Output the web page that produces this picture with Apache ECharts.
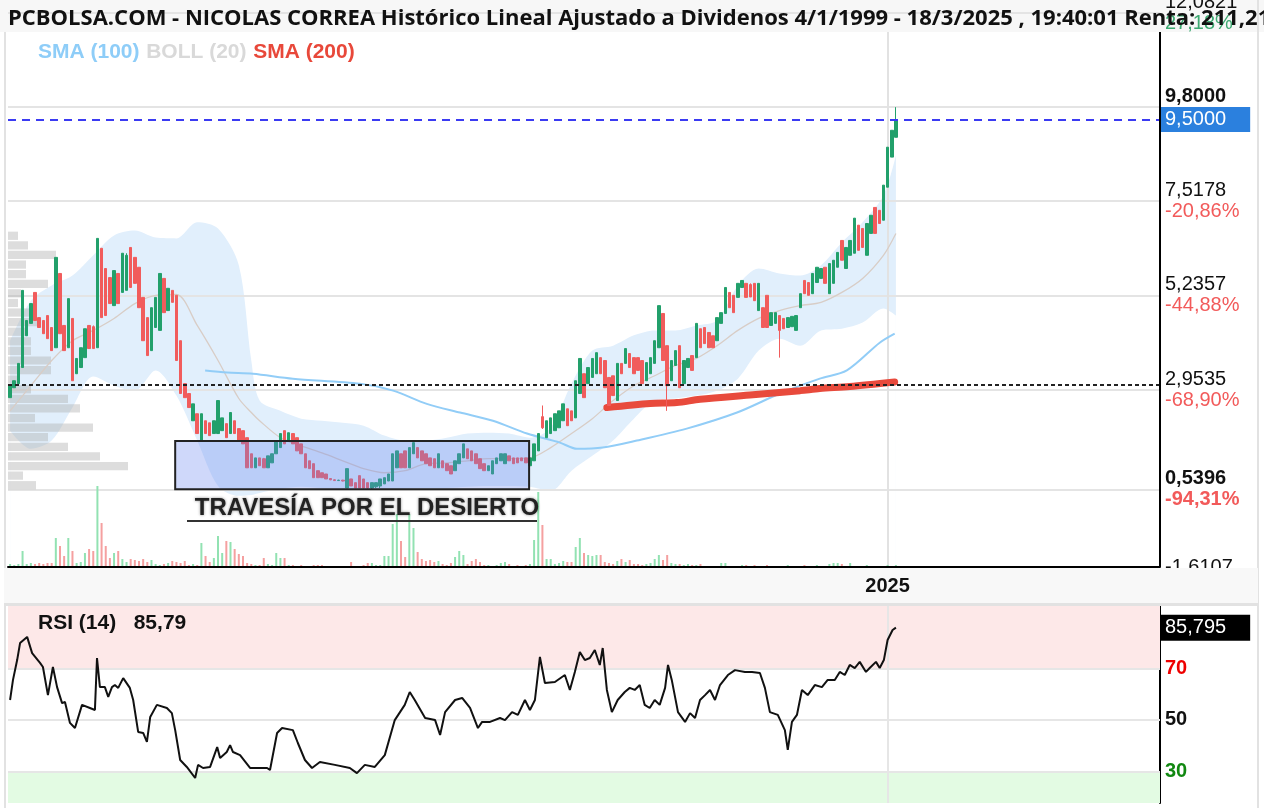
<!DOCTYPE html>
<html>
<head>
<meta charset="utf-8">
<title>NICOLAS CORREA</title>
<script src="https://cdn.jsdelivr.net/npm/echarts/dist/echarts.min.js"></script>
<style>
html,body{margin:0;padding:0;background:#fff;}
#main{width:1264px;height:808px;}
</style>
</head>
<body>
<div id="main"></div>
<script>
// meses (velas mensuales), índice 0 = 2007-06, índice 211 = 2025-01
var months = [];
for (var k = 0; k < 277; k++) {
  var m = 24089 + k, mm = m % 12 + 1;
  months.push(Math.floor(m / 12) + '-' + (mm < 10 ? '0' + mm : mm));
}

// [apertura, cierre, mínimo, máximo]
var ohlc = [
  [2.76,3.05,2.76,3.05],[3.00,3.17,3.00,3.17],[3.10,3.59,3.10,3.59],[3.49,5.36,3.49,5.36],[4.26,4.63,4.26,4.63],
  [4.56,5.04,4.56,5.04],[5.31,4.63,4.63,5.31],[4.70,4.46,4.46,4.70],[4.63,4.31,4.31,4.63],[4.75,4.19,4.19,4.75],
  [4.46,3.90,3.90,4.46],[3.97,6.16,3.97,6.16],[5.77,4.31,4.31,5.77],[4.51,3.90,3.90,4.51],[3.97,5.16,3.97,5.16],
  [4.68,3.17,3.17,4.68],[3.34,3.71,3.34,3.71],[3.49,3.97,3.49,3.97],[3.73,4.43,3.73,4.43],[4.51,3.95,3.95,4.51],
  [4.48,3.95,3.95,4.51],[3.97,6.62,3.97,6.62],[6.38,4.70,4.70,6.38],[5.89,4.75,4.75,5.89],[5.67,5.04,5.04,5.67],
  [4.99,5.84,4.99,5.84],[5.77,5.04,5.04,5.77],[5.31,6.26,5.31,6.26],[5.36,6.21,5.36,6.26],[6.40,5.43,5.43,6.40],
  [6.16,5.53,5.53,6.16],[5.92,4.94,4.94,5.92],[5.19,4.14,4.14,5.19],[4.70,3.78,3.78,4.70],[3.90,4.94,3.90,4.94],
  [4.46,5.19,4.46,5.19],[4.39,5.77,4.39,5.77],[5.65,4.82,4.82,5.65],[4.87,5.41,4.87,5.41],[5.36,5.07,5.07,5.36],
  [5.24,3.66,3.66,5.24],[4.14,2.86,2.86,4.14],[3.10,2.76,2.76,3.10],[2.86,2.52,2.52,2.86],[2.20,2.61,2.20,2.61],
  [2.37,1.89,1.89,2.37],[1.72,2.37,1.72,2.37],[2.20,1.89,1.89,2.20],[2.15,1.84,1.84,2.15],[1.89,2.20,1.89,2.20],
  [1.89,2.69,1.89,2.69],[1.96,2.27,1.96,2.27],[2.13,1.79,1.79,2.13],[1.89,2.40,1.89,2.40],[2.20,1.89,1.89,2.20],
  [2.01,1.72,1.72,2.01],[1.96,1.64,1.64,1.96],[1.79,1.06,1.06,1.79],[1.40,1.06,1.06,1.40],[1.06,1.30,1.06,1.30],
  [1.30,1.11,1.11,1.30],[1.28,1.06,1.06,1.30],[1.06,1.35,1.06,1.35],[1.18,1.40,1.18,1.40],[1.40,1.72,1.40,1.72],
  [1.55,1.89,1.55,1.89],[1.96,1.64,1.64,1.96],[1.72,1.91,1.72,1.91],[1.89,1.64,1.64,1.89],[1.79,1.47,1.47,1.79],
  [1.64,1.40,1.40,1.64],[1.40,1.06,1.06,1.40],[1.23,1.04,1.04,1.23],[1.16,0.82,0.82,1.16],[0.99,0.82,0.82,0.99],
  [0.94,0.82,0.82,0.94],[0.91,0.79,0.79,0.91],[0.80,0.77,0.76,0.81],[0.77,0.75,0.74,0.78],[0.75,0.76,0.74,0.77],
  [0.76,0.74,0.73,0.77],[0.57,1.04,0.57,1.04],[0.79,0.62,0.62,0.79],[0.70,0.57,0.57,0.70],[0.87,0.57,0.57,0.87],
  [0.79,0.57,0.56,0.79],[0.70,0.57,0.55,0.70],[0.57,0.70,0.55,0.70],[0.60,0.70,0.57,0.70],[0.62,0.79,0.57,0.79],
  [0.67,0.82,0.67,0.82],[0.74,0.91,0.74,0.91],[0.74,1.40,0.74,1.40],[1.06,1.47,1.06,1.47],[1.40,1.06,1.06,1.40],
  [1.47,1.06,1.06,1.47],[1.06,1.55,1.06,1.55],[1.40,1.67,1.40,1.67],[1.55,1.30,1.30,1.55],[1.47,1.23,1.23,1.47],
  [1.40,1.16,1.16,1.40],[1.30,1.11,1.11,1.30],[1.28,1.06,1.06,1.28],[1.06,1.40,1.06,1.40],[1.23,1.06,1.06,1.23],
  [1.16,0.99,0.99,1.16],[1.11,0.91,0.91,1.11],[0.99,1.23,0.99,1.23],[1.16,1.40,1.16,1.40],[1.30,1.64,1.30,1.64],
  [1.52,1.28,1.28,1.52],[1.47,1.23,1.23,1.47],[1.40,1.16,1.16,1.40],[1.28,1.04,1.04,1.28],[1.16,0.99,0.99,1.16],
  [0.99,1.11,0.99,1.11],[0.91,1.23,0.91,1.23],[1.16,1.30,1.16,1.30],[1.23,1.40,1.23,1.40],[1.16,1.40,1.16,1.40],
  [1.35,1.23,1.23,1.35],[1.30,1.16,1.16,1.30],[1.30,1.18,1.18,1.30],[1.30,1.23,1.23,1.30],[1.30,1.18,1.18,1.30],
  [1.11,1.30,1.11,1.30],[1.23,1.64,1.23,1.64],[1.47,1.89,1.47,1.89],[2.30,2.03,2.00,2.57],[1.79,2.20,1.79,2.20],
  [1.89,2.27,1.89,2.27],[1.96,2.37,1.96,2.37],[2.03,2.44,2.03,2.44],[2.20,2.61,2.20,2.61],[2.49,2.08,2.08,2.49],
  [2.44,2.20,2.20,2.44],[2.27,3.17,2.27,3.17],[2.86,3.71,2.86,3.71],[3.34,2.76,2.76,3.34],[3.10,3.49,3.10,3.49],
  [3.25,3.71,3.25,3.71],[3.34,3.85,3.34,3.85],[3.73,3.34,3.34,3.73],[3.66,3.00,3.00,3.66],[3.25,2.57,2.57,3.25],
  [3.29,2.81,2.81,3.29],[2.69,3.59,2.69,3.59],[3.59,3.34,3.34,3.59],[3.59,3.95,3.59,3.95],[3.83,3.49,3.49,3.83],
  [3.73,3.34,3.34,3.73],[3.73,3.42,3.42,3.73],[3.66,3.10,3.10,3.66],[3.17,3.61,3.17,3.61],[3.34,3.73,3.34,3.73],
  [3.59,4.14,3.59,4.14],[3.97,4.99,3.97,4.99],[4.80,3.66,3.66,4.80],[4.02,3.05,2.44,4.02],[3.17,3.66,3.17,3.66],
  [3.54,3.90,3.54,3.90],[4.02,3.00,3.00,4.02],[3.10,3.66,3.10,3.66],[3.49,3.71,3.49,3.71],[3.78,3.42,3.42,3.78],
  [3.73,4.56,3.73,4.56],[4.43,3.97,3.97,4.43],[4.46,4.07,4.07,4.46],[4.34,3.97,3.97,4.34],[4.26,3.97,3.97,4.26],
  [4.14,4.70,4.14,4.70],[4.56,4.82,4.56,4.82],[4.80,5.43,4.80,5.43],[5.31,4.94,4.94,5.31],[5.24,4.82,4.82,5.24],
  [5.19,5.53,5.19,5.53],[5.43,5.60,5.43,5.60],[5.53,5.19,5.19,5.53],[5.50,5.20,5.20,5.53],[5.53,5.11,5.11,5.53],
  [4.87,5.53,4.87,5.53],[4.94,4.46,4.46,4.94],[5.24,4.46,4.46,5.24],[4.51,4.82,4.51,4.82],[4.56,4.82,4.56,4.82],
  [4.75,4.39,3.73,4.75],[4.68,4.43,4.43,4.68],[4.46,4.70,4.46,4.70],[4.48,4.73,4.48,4.73],[4.39,4.75,4.39,4.75],
  [4.94,5.28,4.94,5.28],[5.60,5.28,5.28,5.60],[5.55,5.24,5.24,5.55],[5.28,5.77,5.28,5.77],[5.55,5.92,5.55,5.92],
  [5.65,5.89,5.65,5.89],[5.92,5.53,5.53,5.92],[5.28,6.01,5.28,6.01],[5.53,6.09,5.53,6.09],[5.92,6.28,5.92,6.28],
  [6.57,6.09,6.09,6.57],[5.89,6.40,5.89,6.40],[6.21,6.57,6.21,6.57],[6.26,7.11,6.26,7.11],[6.94,6.33,6.33,6.94],
  [6.86,6.40,6.40,6.86],[6.21,6.98,6.21,6.98],[6.74,7.18,6.74,7.18],[7.37,6.74,6.74,7.37],[7.30,6.98,6.98,7.30],
  [7.06,7.91,7.06,7.91],[7.86,8.83,7.86,8.83],[8.59,9.24,8.59,9.24],[9.07,9.50,9.07,9.80]
];

var volume = [
  3,2,3,16,3,4,3,4,3,4, 4,29,21,11,29,16,4,5,14,18, 16,81,44,21,9,14,16,8,5,8,
  7,6,8,5,7,3,2,3,4,6, 5,4,6,2,3,2,24,11,5,9, 31,14,26,25,18,13,11,4,3,2,
  2,9,3,2,14,9,9,2,2,1, 2,1,1,2,2,2,1,1,1,0, 1,1,5,1,1,2,4,4,2,2,
  11,11,43,53,26,10,53,39,15,8, 6,7,5,6,3,2,4,10,16,12, 3,6,8,5,2,2,1,2,4,5,
  3,1,2,1,2,3,27,75,42,8, 8,3,4,6,5,5,20,29,14,12, 11,12,12,5,4,3,6,8,5,7,
  3,3,2,3,4,8,12,7,12,4, 3,3,2,3,2,2,3,1,1,1, 1,4,4,1,1,1,2,2,1,2,
  1,1,2,1,1,1,1,2,1,1, 1,2,1,1,2,1,1,3,4,4, 3,1,4,1,1,1,2,1,1,1,
  1,2,1,2
];

// Bandas de Bollinger (20), leídas a intervalos
var bollT   = [0,5,10,15,20,25,30,35,40,45,50,55,58,60,65,70,75,80,85,90,95,100,105,110,115,120,125,130,135,140,145,150,155,160,165,170,175,180,185,190,195,200,205,210,213];
var bollUp  = [4.14,5.11,5.48,5.72,6.21,6.69,6.81,6.64,6.62,7.01,6.86,5.97,3.66,2.69,2.44,2.25,2.20,2.15,2.08,1.84,1.72,1.72,1.79,1.89,1.91,1.89,1.79,2.03,3.10,3.90,4.02,4.27,4.39,4.39,4.51,4.63,5.48,5.89,5.77,5.72,5.97,6.52,7.01,7.66,8.63];
var bollMid = [2.44,3.05,3.66,4.14,4.39,4.68,5.04,5.24,5.26,4.51,3.66,2.74,2.40,2.20,1.79,1.59,1.42,1.23,1.04,0.94,0.99,1.16,1.18,1.23,1.28,1.28,1.30,1.55,1.89,2.25,2.69,3.05,3.29,3.54,3.71,4.02,4.39,4.68,4.87,4.99,5.07,5.31,5.65,6.21,6.74];
var bollLow = [1.96,1.52,1.72,2.52,3.27,3.05,2.93,3.42,2.81,1.72,0.62,0.38,0.40,0.45,0.55,0.60,0.57,0.55,0.50,0.50,0.55,0.57,0.57,0.60,0.62,0.62,0.60,0.50,0.99,1.35,1.72,2.25,2.69,2.74,2.81,2.93,3.22,3.90,4.19,4.02,4.39,4.43,4.58,4.92,4.75];

var sma100 = [[46.9,3.42],[52.2,3.37],[58.4,3.34],[68,3.22],[84.1,3.10],[92.1,2.93],[100.2,2.61],[108.2,2.40],[116.1,2.20],[124.3,1.89],[132.2,1.67],[136.3,1.52],[142.5,1.55],[150.7,1.72],[162.7,2.01],[174.8,2.40],[185.1,2.86],[194.7,3.22],[201.2,3.42],[209.1,4.09],[212.7,4.31]];
var sma200 = [[143.5,2.52],[153.9,2.62],[160.3,2.64],[165.9,2.72],[178.6,2.83],[190,2.93],[194.7,2.98],[201.9,3.03],[212.7,3.14]];

var rsi = [[0,57.7],[0.7,65.5],[1.7,73.2],[2.4,79.8],[4.1,82.2],[5.3,75.9],[7.2,72.1],[7.9,70.5],[9.1,59.6],[10.3,70.5],[11.3,62.7],[12.5,56.5],[13.2,56.9],[14.4,48.8],[15.6,46.8],[17.3,55.8],[19.2,54.6],[20.4,53.8],[20.9,74.0],[21.6,62.7],[22.8,62.7],[23.6,58.9],[24.5,62.7],[25.2,63.5],[26.0,62.4],[27.2,66.2],[28.8,62.4],[29.6,57.7],[30.8,45.3],[32.0,44.9],[32.9,41.4],[33.7,51.1],[35.3,55.8],[37.7,54.6],[38.9,52.6],[39.7,46.0],[40.9,34.4],[42.5,31.7],[44.5,27.4],[45.2,32.5],[46.4,31.3],[48.1,31.7],[49.8,39.4],[50.5,35.2],[52.1,37.5],[52.9,40.2],[53.6,37.5],[55.3,36.3],[57.7,31.3],[61.8,31.3],[62.5,30.5],[64.2,44.9],[65.4,46.8],[68.0,46.0],[69.2,41.0],[70.9,34.4],[72.6,31.3],[74.5,33.6],[78.1,32.5],[81.7,31.3],[83.4,29.3],[85.3,32.5],[87.7,31.7],[90.1,36.3],[92.5,49.9],[94.9,55.8],[96.1,60.8],[97.3,57.7],[99.8,50.7],[102.2,49.9],[103.4,44.1],[104.6,53.0],[107.0,57.7],[108.7,58.5],[110.6,54.6],[112.5,46.8],[113.5,49.2],[115.4,49.2],[117.8,50.7],[119.0,49.9],[120.7,53.0],[122.1,51.9],[123.8,57.7],[125.0,53.8],[126.2,57.7],[127.4,74.4],[128.6,64.3],[131.0,64.7],[133.4,67.4],[134.6,61.6],[135.8,68.6],[137.0,76.3],[138.2,73.2],[139.4,74.0],[140.6,77.1],[141.8,71.3],[142.5,77.9],[143.5,61.6],[144.7,53.0],[146.1,57.7],[147.8,60.8],[149.0,62.4],[150.2,61.6],[151.4,63.5],[152.6,55.8],[153.8,54.6],[155.0,57.7],[156.2,55.8],[157.5,62.4],[158.2,71.3],[159.1,65.5],[160.6,53.0],[162.3,49.2],[163.5,52.6],[164.7,50.7],[165.9,57.7],[167.1,59.6],[168.3,61.6],[169.5,57.7],[170.7,63.5],[172.6,67.4],[174.3,69.3],[176.7,68.6],[178.4,68.6],[180.3,68.2],[181.5,62.4],[182.7,53.0],[184.6,51.9],[186.3,46.0],[187.0,38.3],[188.0,49.2],[189.2,51.9],[190.4,61.6],[191.8,59.6],[193.5,63.5],[195.2,62.7],[196.6,65.5],[198.3,65.5],[199.5,68.6],[200.7,67.4],[201.9,71.3],[203.1,70.1],[204.3,72.5],[205.8,68.6],[206.7,70.1],[208.2,72.5],[209.1,70.1],[210.1,73.2],[211.0,81.0],[212.2,84.9],[213.0,85.8]];

// perfil de volumen por precio (de arriba a abajo)
var profileLevels = ['6.68','6.45','6.22','5.99','5.76','5.53','5.30','5.07','4.84','4.61','4.38','4.15','3.92','3.69','3.45','3.22','2.99','2.76','2.53','2.30','2.07','1.84','1.61','1.38','1.15','0.92','0.69'];
var profileVol    = [10,20,48,18,18,40,13,10,22,30,20,23,23,43,43,12,23,60,72,27,85,40,60,92,120,15,28];

var priceTicks = [12.0821, 9.8, 7.5178, 5.2357, 2.9535, 0.5396, -1.6107];
var priceText  = ['12,0821','9,8000','7,5178','5,2357','2,9535','0,5396','-1,6107'];
var pctText    = ['27,18%','','-20,86%','-44,88%','-68,90%','-94,31%',''];
var lastPrice = 9.5, lastText = '9,5000';
var resistance = 3.07;
var rsiLevels = [70, 50, 30];
var rsiLast = 85.795, rsiLastText = '85,795';
var year2025 = 211;

var GREEN = '#22a06b', RED = '#f15c5c';
var FONT = 'Liberation Sans';
var NONE = 'rgba(0,0,0,0)';

var chart = echarts.init(document.getElementById('main'));

function pairs(ts, vs) { return ts.map(function (t, i) { return [t, vs[i]]; }); }

var richPrice = {
  v: {color: '#111', fontSize: 20, fontFamily: FONT, lineHeight: 21},
  vb: {color: '#111', fontSize: 20, fontFamily: FONT, fontWeight: 'bold', lineHeight: 21},
  r: {color: '#f25a5a', fontSize: 20, fontFamily: FONT, lineHeight: 21},
  rb: {color: '#f25a5a', fontSize: 20, fontFamily: FONT, fontWeight: 'bold', lineHeight: 21},
  g: {color: '#3daa72', fontSize: 20, fontFamily: FONT, lineHeight: 21},
  e: {fontSize: 20, lineHeight: 21}
};

var gridLines = priceTicks.map(function (v, i) {
  var bold = (i === 1 || i === 5);
  var s = '{' + (bold ? 'vb' : 'v') + '|' + priceText[i] + '}\n';
  if (pctText[i]) s += '{' + (i === 0 ? 'g' : (bold ? 'rb' : 'r')) + '|' + pctText[i] + '}';
  else s += '{e| }';
  return {yAxis: v, label: {show: true, position: 'end', distance: 5, formatter: s, rich: richPrice}};
});
// línea vertical del año 2025, bajo la banda del título
gridLines.push([
  {xAxis: year2025, yAxis: 11.62, label: {show: false}, lineStyle: {color: '#e2e2e2', width: 2, type: 'solid'}},
  {xAxis: year2025, yAxis: -1.35}
]);

var volData = volume.map(function (v, i) {
  var up = ohlc[i][1] >= ohlc[i][0];
  return {value: v, itemStyle: {color: up ? '#92e2b2' : '#f5a0a0'}};
});

var rsiColors = {70: '#ee0000', 50: '#111111', 30: '#118811'};
var rsiLines = rsiLevels.map(function (v) {
  return {yAxis: v, label: {show: true, position: 'end', distance: 5, formatter: String(v),
    color: rsiColors[v], fontSize: 20, fontWeight: 'bold', fontFamily: FONT}};
});
rsiLines.push({xAxis: year2025, label: {show: false}});

var option = {
  animation: false,
  backgroundColor: '#fff',
  grid: [
    {left: 8, right: 104, top: 13, height: 565},
    {left: 8, right: 104, top: 467, height: 100},
    {left: 8, width: 400, top: 231, height: 259},
    {left: 8, right: 104, top: 606, height: 197}
  ],
  xAxis: [
    {type: 'category', gridIndex: 0, data: months, show: false},
    {type: 'value', gridIndex: 0, min: -0.5, max: 276.5, show: false},
    {type: 'category', gridIndex: 1, data: months, zlevel: 1, z: 6,
      axisLine: {show: true, onZero: false, lineStyle: {color: '#000', width: 2}},
      axisTick: {show: false},
      axisLabel: {interval: function (idx) { return idx === year2025; },
        formatter: function (v) { return v.slice(0, 4); },
        color: '#111', fontSize: 20, fontWeight: 'bold', fontFamily: FONT, margin: 9},
      splitLine: {show: false}},
    {type: 'value', gridIndex: 2, min: 0, max: 400, show: false},
    {type: 'value', gridIndex: 3, min: -0.5, max: 276.5, show: false}
  ],
  yAxis: [
    {type: 'value', gridIndex: 0, min: -1.6107, max: 12.0821, show: false},
    {type: 'value', gridIndex: 1, min: 0, max: 100, show: false},
    {type: 'category', gridIndex: 2, data: profileLevels, inverse: true, show: false},
    {type: 'value', gridIndex: 3, min: 17.7, max: 94.2, position: 'right',
      axisLine: {show: true, onZero: false, lineStyle: {color: '#000', width: 2}},
      axisTick: {show: false}, axisLabel: {show: false}, splitLine: {show: false}}
  ],
  series: [
    // banda de Bollinger: relleno bajo la banda superior, tapado en blanco bajo la inferior
    {name: 'BOLL sup', type: 'line', xAxisIndex: 1, yAxisIndex: 0, data: pairs(bollT, bollUp),
      smooth: 0.3, symbol: 'none', lineStyle: {width: 0, color: NONE},
      areaStyle: {color: '#e1effc', origin: 'start', opacity: 1}, silent: true, z: 1},
    {name: 'BOLL inf', type: 'line', xAxisIndex: 1, yAxisIndex: 0, data: pairs(bollT, bollLow),
      smooth: 0.3, symbol: 'none', lineStyle: {width: 0, color: NONE},
      areaStyle: {color: '#ffffff', origin: 'start', opacity: 1}, silent: true, z: 1},
    {name: 'Perfil', type: 'bar', xAxisIndex: 3, yAxisIndex: 2, data: profileVol, barCategoryGap: '14%',
      itemStyle: {color: 'rgba(175,175,175,0.42)'}, silent: true, z: 2},
    {name: 'rejilla', type: 'line', xAxisIndex: 1, yAxisIndex: 0, data: [[0, 2.9535]], symbol: 'none',
      lineStyle: {color: NONE}, silent: true, z: 2,
      markLine: {z: 2, silent: true, symbol: ['none', 'none'], lineStyle: {color: '#e4e4e4', width: 2, type: 'solid'},
        data: gridLines}},
    {name: 'BOLL (20)', type: 'line', xAxisIndex: 1, yAxisIndex: 0, data: pairs(bollT, bollMid), smooth: 0.3,
      symbol: 'none', lineStyle: {color: '#d8cdc6', width: 1.3}, silent: true, z: 2},
    {name: 'SMA (100)', type: 'line', xAxisIndex: 1, yAxisIndex: 0, data: sma100, smooth: 0.3,
      symbol: 'none', lineStyle: {color: '#92cdf7', width: 2}, silent: true, z: 3},
    {name: 'SMA (200)', type: 'line', xAxisIndex: 1, yAxisIndex: 0, data: sma200, smooth: 0.3,
      symbol: 'none', lineStyle: {color: '#e84a3c', width: 7, cap: 'round'}, silent: true, z: 3},
    {name: 'Volumen', type: 'bar', xAxisIndex: 2, yAxisIndex: 1, data: volData, barWidth: 2, silent: true, z: 2},
    {name: 'NICOLAS CORREA', type: 'candlestick', xAxisIndex: 0, yAxisIndex: 0, data: ohlc, barWidth: 3,
      itemStyle: {color: GREEN, color0: RED, borderColor: GREEN, borderColor0: RED, borderWidth: 1}, z: 4},
    {name: 'marcas', type: 'line', xAxisIndex: 1, yAxisIndex: 0, data: [[0, 2.9535]], symbol: 'none',
      lineStyle: {color: NONE}, silent: true, z: 5,
      markLine: {z: 6, silent: true, symbol: ['none', 'none'], data: [
        {yAxis: lastPrice, lineStyle: {color: '#3b3bf2', type: [8, 6], width: 2},
          label: {show: true, position: 'end', distance: 1, formatter: lastText, color: '#fff',
            backgroundColor: '#2b80de', padding: [3, 24, 2, 4], fontSize: 20, fontFamily: FONT}},
        {yAxis: resistance, lineStyle: {color: '#222', type: [4, 3], width: 2}, label: {show: false}}
      ]},
      markArea: {z: 6, silent: true, itemStyle: {color: 'rgba(105,135,240,0.32)', borderColor: '#222', borderWidth: 2},
        data: [[{xAxis: 39.7, yAxis: 1.71}, {xAxis: 124.8, yAxis: 0.54}]]}},
    {name: 'rsi rejilla', type: 'line', xAxisIndex: 4, yAxisIndex: 3, data: [[0, 50]], symbol: 'none',
      lineStyle: {color: NONE}, silent: true, z: 1,
      markArea: {z: 1, silent: true, data: [
        [{yAxis: 70, itemStyle: {color: '#fde8e8'}}, {yAxis: 94.2}],
        [{yAxis: 17.7, itemStyle: {color: '#e3fbe3'}}, {yAxis: 30}]
      ]},
      markLine: {z: 2, silent: true, symbol: ['none', 'none'], lineStyle: {color: '#e6e6e6', width: 2, type: 'solid'},
        data: rsiLines}},
    {name: 'RSI (14)', type: 'line', xAxisIndex: 4, yAxisIndex: 3, data: rsi, symbol: 'none',
      lineStyle: {color: '#111', width: 2}, silent: true, z: 3,
      markLine: {silent: true, symbol: ['none', 'none'], data: [
        {yAxis: rsiLast, lineStyle: {color: NONE, width: 0},
          label: {show: true, position: 'end', distance: 0, formatter: rsiLastText, color: '#fff',
            backgroundColor: '#000', padding: [3, 24, 3, 5], fontSize: 20, fontFamily: FONT}}
      ]}}
  ],
  graphic: [
    {type: 'rect', z: 0, shape: {x: 0, y: 0, width: 1264, height: 32}, style: {fill: '#f7f7f7'}},
    {type: 'rect', zlevel: 1, z: 0, shape: {x: 4, y: 568, width: 1254, height: 35}, style: {fill: '#f8f8f8'}},
    {type: 'rect', zlevel: 1, z: 0, shape: {x: 4, y: 603, width: 1254, height: 3}, style: {fill: '#e2e2e2'}},
    {type: 'line', z: 5, shape: {x1: 5, y1: 32, x2: 5, y2: 808}, style: {stroke: '#e2e2e2', lineWidth: 2}},
    {type: 'line', z: 5, shape: {x1: 1258, y1: 0, x2: 1258, y2: 808}, style: {stroke: '#e2e2e2', lineWidth: 2}},
    {type: 'line', z: 10, shape: {x1: 1160, y1: 32, x2: 1160, y2: 567}, style: {stroke: '#000', lineWidth: 2}},
    {type: 'text', z: 10, style: {x: 8, y: 19, verticalAlign: 'middle', fill: '#111',
      text: 'PCBOLSA.COM - NICOLAS CORREA Histórico Lineal Ajustado a Dividenos 4/1/1999 - 18/3/2025 , 19:40:01 Renta: 211,21%',
      fontSize: 22, fontWeight: 'bold', fontFamily: 'Open Sans'}},
    {type: 'text', z: 10, style: {x: 38, y: 52, verticalAlign: 'middle',
      text: '{a|SMA (100)}  {b|BOLL (20)}  {c|SMA (200)}',
      rich: {
        a: {fill: '#8ecdf8', fontSize: 21, fontWeight: 'bold', fontFamily: FONT},
        b: {fill: '#d9d9d9', fontSize: 21, fontWeight: 'bold', fontFamily: FONT},
        c: {fill: '#e8483a', fontSize: 21, fontWeight: 'bold', fontFamily: FONT}
      }}},
    {type: 'text', z: 10, style: {x: 38, y: 623, verticalAlign: 'middle', fill: '#111',
      text: 'RSI (14)   85,79', fontSize: 21, fontWeight: 'bold', fontFamily: FONT}},
    {type: 'text', z: 10, style: {x: 367, y: 508, align: 'center', verticalAlign: 'middle', fill: '#222',
      text: 'TRAVESÍA POR EL DESIERTO', fontSize: 24, fontWeight: 'bold', fontFamily: FONT,
      textShadowColor: 'rgba(0,0,0,0.45)', textShadowBlur: 3}},
    {type: 'line', z: 10, shape: {x1: 187, y1: 521, x2: 537, y2: 521}, style: {stroke: '#333', lineWidth: 2}}
  ]
};

chart.setOption(option);
</script>
</body>
</html>
